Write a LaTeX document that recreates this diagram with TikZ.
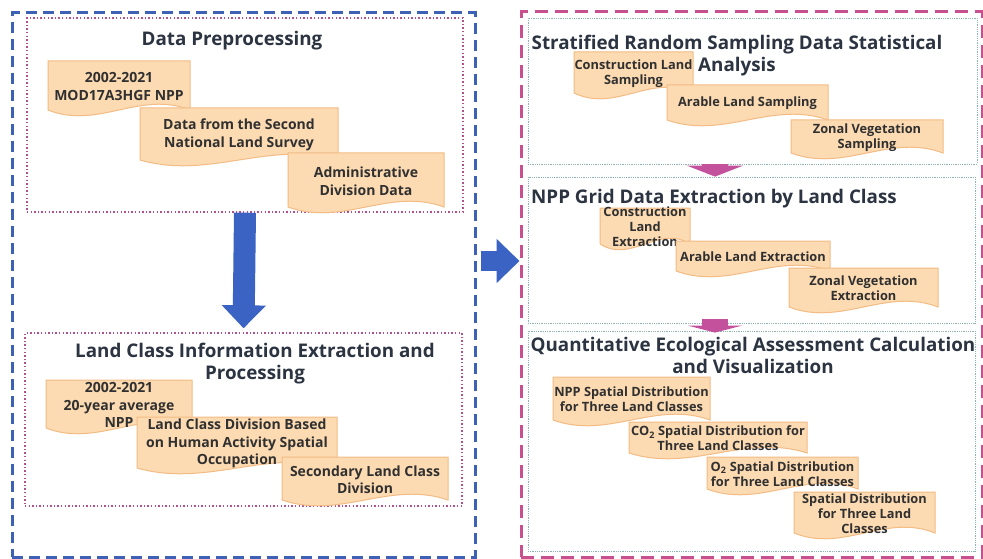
\documentclass[tikz,border=0pt]{standalone}
\usepackage{fontspec}
\setmainfont{Open Sans}
\usetikzlibrary{arrows.meta,fit}

\definecolor{frameblue}{HTML}{3D62B5}
\definecolor{arrowblue}{HTML}{3A63C4}
\definecolor{framepink}{HTML}{C8508E}
\definecolor{arrowpink}{HTML}{C4519C}
\definecolor{dotpink}{HTML}{B0508C}
\definecolor{dotteal}{HTML}{8DB3B3}
\definecolor{docfill}{HTML}{FCDAB2}
\definecolor{docline}{HTML}{F2BC84}
\definecolor{titleink}{HTML}{2C3442}
\definecolor{docink}{HTML}{303030}

\tikzset{
  outerframe/.style={draw, line width=3pt, dash pattern=on 11pt off 6pt, inner sep=0pt},
  leftbox/.style={draw=dotpink, line width=1.4pt, dash pattern=on 1.4pt off 2.2pt, inner sep=0pt},
  rightbox/.style={draw=dotteal, line width=0.8pt, dash pattern=on 0.8pt off 1pt, inner sep=0pt},
  docshape/.style={fill=docfill, draw=docline, line width=1pt},
  doctext/.style={text=docink, align=center, inner sep=0pt, font=\bfseries\fontsize{14}{17.5}\selectfont},
  smalldoc/.style={font=\bfseries\fontsize{12.8}{15}\selectfont},
  title/.style={text=titleink, align=center, inner sep=0pt, font=\bfseries\fontsize{18.8}{22}\selectfont},
  bluearrow/.style={draw=arrowblue, line width=22pt, -{Triangle[width=43pt,length=23pt]}},
  pinkarrow/.style={draw=arrowpink, line width=26pt, -{Triangle[width=56pt,length=11pt]}},
}

% document shape with a wavy lower edge: name, left, top, right, bottom, text
\newcommand\docpart[7][]{%
  \draw[docshape] (#3,#4) -- (#5,#4) -- (#5,#6)
    .. controls ({#3+0.65*(#5-#3)},#6-20) and ({#3+0.35*(#5-#3)},#6+20) .. (#3,#6) -- cycle;
  \node[doctext,#1] (#2) at ({(#3+#5)/2},{(#4+#6)/2+1}) {#7};
}

\begin{document}
\begin{tikzpicture}[x=1pt,y=-1pt]
  \useasboundingbox[fill=white] (0,0) rectangle (983,559);
  \clip (0,0) rectangle (983,559);

  % frames
  \node[outerframe, draw=frameblue, fit={(12,13) (475,557)}] (leftframe) {};
  \node[outerframe, draw=framepink, dash pattern=on 13pt off 7pt, fit={(521,12) (982,557)}] (rightframe) {};

  \node[leftbox, fit={(27,18) (463,212)}] (prep) {};
  \node[leftbox, fit={(25,333) (462,506)}] (landclass) {};

  \node[rightbox, fit={(528,18) (977,164)}] (sampling) {};
  \node[rightbox, fit={(528,177) (975,323)}] (grid) {};
  \node[rightbox, fit={(528,331) (975,551)}] (assess) {};

  % data preprocessing
  \node[title] (prep-t) at (232,41) {Data Preprocessing};
  \docpart{d1}{48}{61}{190}{110}{2002-2021\\MOD17A3HGF NPP}
  \docpart{d2}{140}{108}{338}{160}{Data from the Second\\National Land Survey}
  \docpart{d3}{288}{153}{444}{207}{Administrative\\Division Data}

  % land class extraction
  \node[title] (landclass-t) at (255,364) {Land Class Information Extraction and\\Processing};
  \docpart{e1}{46}{380}{192}{428}{2002-2021\\20-year average\\NPP}
  \docpart{e2}{137}{417}{337}{468}{Land Class Division Based\\on Human Activity Spatial\\Occupation}
  \docpart{e3}{282}{457}{448}{500}{Secondary Land Class\\Division}

  % stratified sampling
  \node[title] (sampling-t) at (737,56) {Stratified Random Sampling Data Statistical\\Analysis};
  \docpart[smalldoc]{s1}{574}{52}{693}{93}{Construction Land\\Sampling}
  \docpart[smalldoc]{s2}{667}{85}{828}{120}{Arable Land Sampling}
  \docpart[smalldoc]{s3}{791}{120}{943}{153}{Zonal Vegetation\\Sampling}

  % grid extraction
  \node[title] (grid-t) at (714,199) {NPP Grid Data Extraction by Land Class};
  \docpart[smalldoc]{x1}{600}{208}{690}{244}{Construction\\Land\\Extraction}
  \docpart[smalldoc]{x2}{676}{241}{830}{271}{Arable Land Extraction}
  \docpart[smalldoc]{x3}{789}{268}{938}{307}{Zonal Vegetation\\Extraction}

  % assessment
  \node[title] (assess-t) at (753,355) {Quantitative Ecological Assessment Calculation\\and Visualization};
  \docpart[smalldoc]{q1}{553}{377}{710}{420}{NPP Spatial Distribution\\for Three Land Classes}
  \docpart[smalldoc]{q2}{629}{422}{807}{453}{CO\textsubscript{2} Spatial Distribution for\\Three Land Classes}
  \docpart[smalldoc]{q3}{707}{457}{858}{489}{O\textsubscript{2} Spatial Distribution\\for Three Land Classes}
  \docpart[smalldoc]{q4}{794}{492}{935}{533}{Spatial Distribution\\for Three Land\\Classes}

  % block arrows
  \coordinate (mid) at (0,261);
  \coordinate (col) at (715,0);
  \draw[bluearrow, shorten >=4pt] (prep.south) -- (landclass.north);
  \draw[bluearrow, line width=20pt, shorten <=4pt] (leftframe.east |- mid) -- (rightframe.west |- mid);
  \draw[pinkarrow] (sampling.south -| col) -- (grid.north -| col);
  \draw[pinkarrow, -{Triangle[width=54pt,length=7pt]}, shorten <=-4pt, shorten >=-2pt] (grid.south -| col) -- (assess.north -| col);
\end{tikzpicture}
\end{document}
